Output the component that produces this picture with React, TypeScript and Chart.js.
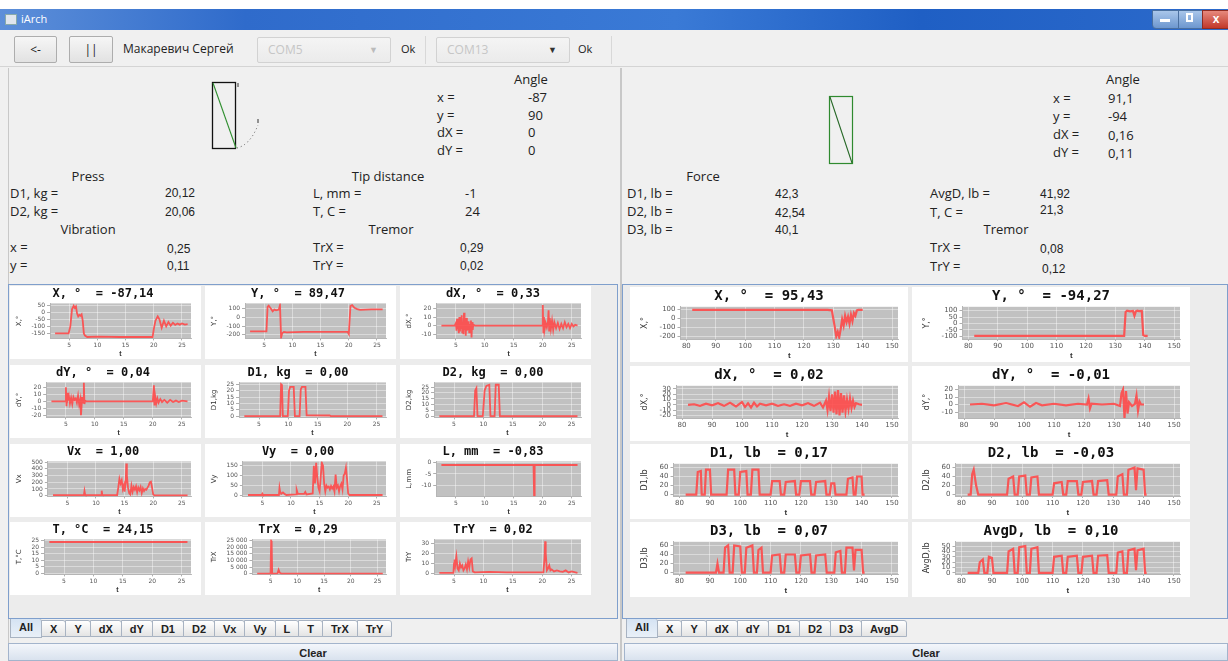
import React, { useEffect, useRef } from "react";
import { Chart, registerables } from "chart.js";
Chart.register(...registerables);

// ================= LEFT DEVICE (time 2.5 .. 26 s) =================
const LEFT_T_TICKS = [5, 10, 15, 20, 25];

const L_X_T = [2.5, 4.9, 5.2, 5.5, 5.8, 6.0, 6.2, 6.4, 6.6, 6.8, 7.0, 7.2, 7.4, 7.6, 7.8, 8.2, 10, 14, 19.8, 20.0, 20.3, 20.7, 21.0, 21.4, 21.8, 22.2, 22.6, 23.0, 23.4, 23.8, 24.2, 24.6, 25.0, 25.5, 26.0];
const L_X_V = [-150, -150, -100, 20, 45, 30, 40, -10, -30, -20, -25, -15, -60, -150, -165, -175, -172, -175, -175, -120, -60, -30, -50, -110, -60, -100, -70, -95, -75, -90, -80, -88, -80, -88, -85];
const L_X_TICKS = [50, 0, -50, -100, -150];

const L_Y_T = [2.5, 5.4, 5.6, 5.8, 6.2, 6.5, 6.8, 7.1, 7.4, 7.6, 7.8, 8.0, 8.2, 8.5, 9, 12, 19.8, 20.0, 20.3, 20.6, 21.0, 21.5, 22, 23, 24, 26];
const L_Y_V = [-160, -160, 120, 135, 100, 70, 90, 80, 85, 90, 140, -230, -180, -165, -170, -165, -165, -190, 130, 140, 110, 95, 85, 90, 92, 92];
const L_Y_TICKS = [100, 0, -100, -200];

const L_DX_T = [2.5, 4.8, 5.0, 5.1, 5.2, 5.3, 5.4, 5.5, 5.6, 5.7, 5.8, 5.9, 6.0, 6.1, 6.2, 6.3, 6.4, 6.5, 6.6, 6.7, 6.8, 6.9, 7.0, 7.1, 7.2, 7.3, 7.4, 7.5, 7.6, 7.7, 7.8, 7.9, 8.0, 8.3, 12, 19.9, 20.0, 20.1, 20.2, 20.3, 20.5, 20.7, 20.9, 21.0, 21.1, 21.2, 21.4, 21.6, 21.8, 22.0, 22.3, 22.6, 22.9, 23.2, 23.5, 23.8, 24.1, 24.4, 24.7, 25.0, 25.3, 25.6, 26];
const L_DX_V = [0, 0, 3, -6, 8, -4, 5, -9, 10, -7, 6, -3, 12, -8, 4, -10, 15, -5, 7, -12, 9, -6, 3, -4, 5, -8, 2, -3, 6, -14, 4, -5, 1, 0, 0, 0, 24, -8, 10, -5, 3, -2, 5, 18, -6, 9, -4, 6, -5, 4, -3, 3, -4, 2, -3, 4, -2, 2, -3, 2, -1, 1, 0];
const L_DX_TICKS = [20, 10, 0, -10];

const L_DY_T = [2.5, 4.9, 5.0, 5.1, 5.2, 5.3, 5.5, 5.7, 5.9, 6.1, 6.3, 6.5, 6.7, 6.9, 7.1, 7.3, 7.5, 7.6, 7.7, 7.8, 7.9, 8.0, 8.1, 8.2, 8.3, 8.5, 12, 20.0, 20.2, 20.3, 20.4, 20.6, 20.8, 21.0, 21.3, 21.6, 22.0, 22.5, 23.0, 23.5, 24.0, 24.5, 25.0, 26];
const L_DY_V = [0, 0, 20, -7, 12, 2, 8, -3, 5, -4, 6, 2, 4, -2, 8, -5, 3, -20, -8, 6, -3, 2, 27, -4, 1, 0, 0, 0, 23, -6, 8, -3, 4, -2, 3, -1, 2, -2, 2, -1, 1, -1, 1, 0];
const L_DY_TICKS = [20, 10, 0, -10, -20];

const L_D1_T = [2.5, 8.6, 8.75, 8.9, 9.05, 9.9, 10.1, 10.3, 10.9, 11.1, 11.9, 12.1, 12.3, 12.9, 13.1, 17, 17.2, 26];
const L_D1_V = [0, 0, 25, 24, 0, 0, 20, 23, 23, 0, 0, 21, 23, 23, 0.6, 0.5, 0, 0];
const L_D2_T = [2.5, 8.4, 8.6, 8.8, 9.0, 9.9, 10.2, 10.5, 11.0, 11.2, 11.9, 12.1, 12.6, 12.8, 26];
const L_D2_V = [0, 0, 22, 24, 0, 0, 22, 26, 27, 0, 0, 27, 27, 0, 0];
const L_D_TICKS = [25, 20, 15, 10, 5, 0];

const L_VX_T = [2.5, 7.9, 8.0, 8.1, 8.2, 10.9, 11.0, 11.1, 11.2, 13.7, 13.9, 14.1, 14.3, 14.5, 14.7, 14.9, 15.0, 15.2, 15.3, 15.4, 15.6, 15.8, 16.0, 16.2, 16.4, 16.6, 16.8, 17.0, 17.2, 17.4, 17.6, 17.8, 18.0, 18.2, 18.4, 18.6, 18.8, 19.0, 19.2, 19.4, 19.6, 19.8, 20.0, 20.2, 26];
const L_VX_V = [10, 10, 70, 20, 10, 10, 75, 15, 10, 10, 120, 250, 180, 230, 100, 160, 60, 200, 480, 300, 120, 40, 20, 150, 60, 130, 90, 140, 50, 120, 80, 130, 40, 110, 70, 100, 90, 120, 150, 200, 210, 120, 20, 5, 5];
const L_VX_TICKS = [500, 400, 300, 200, 100, 0];

const L_VY_T = [2.5, 4.9, 5.0, 5.1, 7.9, 8.0, 8.1, 8.3, 8.6, 9.0, 9.2, 10.9, 11.0, 11.2, 12.3, 12.5, 12.7, 13.8, 14.0, 14.2, 14.4, 14.6, 14.8, 15.0, 15.2, 15.4, 15.6, 15.8, 16.0, 16.2, 16.4, 16.6, 16.8, 17.0, 17.2, 17.4, 17.6, 17.8, 18.0, 18.2, 18.4, 18.6, 18.8, 19.0, 19.2, 19.4, 19.6, 19.8, 20.0, 20.2, 26];
const L_VY_V = [2, 2, 8, 2, 2, 38, 20, 8, 15, 5, 2, 5, 28, 8, 8, 18, 5, 10, 150, 60, 165, 90, 40, 20, 95, 165, 150, 60, 20, 50, 40, 45, 30, 48, 35, 45, 20, 105, 40, 50, 20, 48, 60, 30, 100, 110, 140, 80, 10, 2, 2];
const L_VY_TICKS = [150, 100, 50, 0];

const L_L_T = [2.5, 18.4, 18.5, 18.6, 26];
const L_L_V = [-1, -1, -14.5, -1, -1];
const L_L_TICKS = [0, -5, -10];

const L_T_T = [2.5, 26];
const L_T_V = [24, 24];
const L_T_TICKS = [25, 20, 15, 10, 5, 0];

const L_TRX_T = [2.5, 5.0, 5.1, 5.2, 5.3, 6.3, 6.5, 6.7, 7.0, 26];
const L_TRX_V = [100, 100, 25000, 24000, 100, 200, 3000, 800, 100, 100];
const L_TRX_TICKS = [25000, 20000, 15000, 10000, 5000, 0];

const L_TRY_T = [2.5, 4.9, 5.0, 5.1, 5.2, 5.4, 5.6, 5.8, 6.0, 6.2, 6.4, 6.6, 6.8, 7.0, 7.2, 7.4, 7.6, 7.8, 8.0, 8.2, 8.5, 11, 14, 20.2, 20.4, 20.5, 20.6, 20.8, 21.0, 21.2, 21.4, 21.6, 22, 22.5, 23, 23.5, 24, 24.5, 25, 26];
const L_TRY_V = [0.5, 0.5, 10, 14, 8, 17, 5, 3, 10, 6, 8, 3, 5, 9, 4, 12, 6, 14, 15, 2, 1, 1.5, 1, 1, 15, 32, 20, 3, 5, 8, 3, 4, 2, 3, 2, 1.5, 3, 1, 2, 0.5];
const L_TRY_TICKS = [30, 20, 10, 0];

// ================= RIGHT DEVICE (time 82 .. 141 s) =================
const RIGHT_T_TICKS = [80, 90, 100, 110, 120, 130, 140, 150];

const R_X_T = [82, 100, 120, 128, 129.5, 130.5, 131, 131.5, 132, 132.5, 133, 133.5, 134, 134.5, 135, 135.5, 136, 136.5, 137, 137.5, 138, 138.5, 139, 140];
const R_X_V = [95, 95, 95, 95, 90, -100, -200, -150, -210, -120, -10, -80, 30, -40, 20, -60, 40, -30, 60, 30, 90, 95, 95, 95];
const R_X_TICKS = [100, 0, -100, -200];

const R_Y_T = [82, 100, 120, 133, 133.5, 134, 135, 136, 136.5, 137, 137.5, 138, 139, 139.5, 140, 141];
const R_Y_V = [-95, -95, -95, -95, 90, 100, 95, 98, 60, 95, 100, 97, 98, -90, -95, -95];
const R_Y_TICKS = [100, 50, 0, -50, -100];

const R_DX_T = [82, 84, 86, 88, 90, 92, 94, 96, 98, 100, 101, 102, 103, 104, 105, 106, 108, 110, 112, 114, 116, 118, 120, 122, 124, 126, 127, 128, 128.5, 129, 129.5, 130, 130.5, 131, 131.5, 132, 132.5, 133, 133.5, 134, 134.5, 135, 135.5, 136, 136.5, 137, 137.5, 138, 139, 140];
const R_DX_V = [0, 1, -2, 2, -1, 3, -2, 4, -3, 5, -4, 3, -5, 4, -3, 2, -1, 2, -2, 1, -2, 2, -1, 3, -2, 4, -5, 8, -10, 15, -12, 20, -15, 25, -18, 28, -20, 22, -15, 18, -12, 10, -8, 12, -6, 8, -4, 3, 1, 0];
const R_DX_TICKS = [30, 20, 10, 0, -10, -20];

const R_DY_T = [82, 86, 90, 94, 98, 100, 102, 104, 106, 110, 114, 118, 121, 121.5, 122, 122.5, 126, 130, 132, 132.5, 133, 133.5, 134, 134.5, 135, 136, 137, 137.5, 138, 138.5, 139, 140];
const R_DY_V = [0, 1, -1, 2, -2, 3, -3, 2, -1, 1, -1, 1, 0, 8, -5, 1, 0, 1, -2, 15, 20, -18, 18, -12, 3, -2, 1, 12, -8, 4, 0, 0];
const R_DY_TICKS = [20, 10, 0, -10];

const R_D1_T = [82, 85.5, 86, 87, 87.3, 88.3, 88.7, 90, 90.4, 95.5, 96, 98, 98.4, 99.5, 100, 102, 102.4, 103.5, 104, 106, 106.4, 110, 110.5, 113, 113.4, 114.5, 115, 118, 118.4, 119.5, 120, 123, 123.4, 124.5, 125, 128, 128.4, 129.5, 130, 131, 131.4, 135, 135.5, 137, 137.4, 138, 138.5, 140, 140.3, 141];
const R_D1_V = [0, 0, 50, 52, 0, 0, 55, 55, 0, 0, 55, 55, 0, 0, 50, 52, 0, 0, 55, 55, 0, 0, 30, 30, 0, 0, 28, 30, 0, 0, 30, 30, 0, 0, 28, 30, 0, 0, 25, 25, 0, 0, 35, 38, 0, 0, 40, 40, 0, 0];
const R_D2_T = [82, 83, 83.5, 84, 84.8, 85.5, 95, 95.5, 97, 97.5, 98.5, 99, 101, 101.5, 102.5, 103, 105, 105.5, 110, 110.5, 113, 113.5, 114.5, 115, 118, 118.5, 119.5, 120, 123, 123.5, 124.5, 125, 128, 128.5, 131, 131.5, 133, 133.5, 134.5, 135, 137, 137.5, 138, 140, 140.5, 141];
const R_D2_V = [0, 0, 45, 55, 20, 0, 0, 35, 40, 0, 0, 40, 42, 0, 0, 38, 40, 0, 0, 25, 28, 0, 0, 30, 30, 0, 0, 28, 30, 0, 0, 30, 32, 0, 0, 40, 45, 0, 0, 55, 60, 10, 58, 55, 0, 0];
const R_D3_T = [82, 92, 92.5, 93, 94.5, 95, 96, 96.5, 97.5, 98, 100, 100.5, 101.5, 102, 104, 104.5, 105.5, 106, 107, 107.5, 110, 110.5, 113, 113.5, 114.5, 115, 118, 118.5, 119.5, 120, 123, 123.5, 124.5, 125, 128, 128.5, 131, 131.5, 133, 133.5, 134.5, 135, 137, 137.5, 138, 140, 140.5, 141];
const R_D3_V = [0, 0, 20, 0, 0, 55, 60, 0, 0, 60, 58, 0, 0, 55, 60, 0, 0, 50, 55, 0, 0, 38, 40, 0, 0, 40, 40, 0, 0, 38, 40, 0, 0, 38, 40, 0, 0, 45, 48, 0, 0, 55, 55, 5, 50, 50, 0, 0];
const R_D_TICKS = [60, 40, 20, 0];

const R_AVG_T = [82, 85.5, 86, 87, 87.5, 88.5, 89, 90, 90.5, 95, 95.5, 97, 97.5, 98.5, 99, 101, 101.5, 102.5, 103, 105, 105.5, 110, 110.5, 113, 113.5, 114.5, 115, 118, 118.5, 119.5, 120, 123, 123.5, 124.5, 125, 128, 128.5, 131, 131.5, 133, 133.5, 134.5, 135, 137, 137.5, 138, 140, 140.5, 141];
const R_AVG_V = [0, 0, 20, 25, 0, 0, 30, 28, 0, 0, 40, 45, 0, 0, 48, 50, 0, 0, 45, 48, 0, 0, 30, 32, 0, 0, 30, 32, 0, 0, 30, 32, 0, 0, 32, 33, 0, 0, 38, 40, 0, 0, 42, 45, 5, 42, 45, 0, 0];
const R_AVG_TICKS = [50, 40, 30, 20, 10, 0];

// ================= chart helpers =================
const plotBg = {
  id: "plotBg",
  beforeDraw(chart: any) {
    const a = chart.chartArea;
    if (!a) return;
    const ctx = chart.ctx;
    ctx.save();
    ctx.fillStyle = "#c1c1c1";
    ctx.fillRect(a.left, a.top, a.right - a.left, a.bottom - a.top);
    ctx.restore();
  },
};

const fmt = (v: number) => {
  const s = String(Math.abs(v)).replace(/\B(?=(\d{3})+(?!\d))/g, " ");
  return (v < 0 ? "-" : "") + s;
};

type MiniProps = {
  left: number; top: number; width: number; height: number;
  title: string; titleSize: number; yTitle: string;
  ts: number[]; vs: number[];
  xMin: number; xMax: number; xTicks: number[];
  yMin: number; yMax: number; yTicks: number[];
  tickSize: number; padLeft: number; yTitlePad: number; lineW: number;
};

function MiniChart(p: MiniProps) {
  const ref = useRef<HTMLCanvasElement>(null);
  useEffect(() => {
    const chart = new Chart(ref.current as HTMLCanvasElement, {
      type: "line",
      data: {
        datasets: [
          {
            data: p.ts.map((t, i) => ({ x: t, y: p.vs[i] })),
            borderColor: "rgba(255,70,70,0.88)",
            borderWidth: p.lineW,
            pointRadius: 0,
            tension: 0,
            fill: false,
          },
        ],
      },
      options: {
        animation: false,
        responsive: false,
        events: [],
        layout: { padding: { left: p.padLeft, right: 10, top: 0, bottom: 1 } },
        plugins: {
          legend: { display: false },
          tooltip: { enabled: false },
          title: {
            display: true,
            text: p.title,
            color: "#111",
            font: { family: "DejaVu Sans Mono", weight: "bold", size: p.titleSize },
            padding: { top: 1, bottom: 2 },
          },
        },
        scales: {
          x: {
            type: "linear",
            min: p.xMin,
            max: p.xMax,
            afterBuildTicks: (axis: any) => { axis.ticks = p.xTicks.map((v) => ({ value: v })); },
            ticks: { font: { size: p.tickSize, family: "DejaVu Sans" }, color: "#555", maxRotation: 0, padding: 1, autoSkip: false },
            grid: { color: "rgba(255,255,255,0.5)", lineWidth: 0.8, tickLength: 2, tickColor: "#999" },
            border: { display: true, color: "#b5b5b5" },
            title: { display: true, text: "t", color: "#333", font: { size: p.tickSize + 1, weight: "bold" }, padding: 0 },
          },
          y: {
            type: "linear",
            min: p.yMin,
            max: p.yMax,
            afterBuildTicks: (axis: any) => { axis.ticks = p.yTicks.map((v) => ({ value: v })); },
            ticks: { font: { size: p.tickSize, family: "DejaVu Sans" }, color: "#555", padding: 2, autoSkip: false, callback: (v: any) => fmt(Number(v)) },
            grid: { color: "rgba(255,255,255,0.5)", lineWidth: 0.8, tickLength: 3, tickColor: "#999" },
            border: { display: true, color: "#b5b5b5" },
            title: { display: true, text: p.yTitle, color: "#333", font: { size: p.tickSize + 1, family: "DejaVu Sans" }, padding: { top: 0, bottom: p.yTitlePad } },
          },
        },
      },
      plugins: [plotBg],
    } as any);
    return () => chart.destroy();
  }, []);
  return (
    <div style={{ position: "absolute", left: p.left, top: p.top, width: p.width, height: p.height, background: "#fff" }}>
      <canvas ref={ref} width={p.width} height={p.height} style={{ display: "block" }} />
    </div>
  );
}

// ================= layout =================
const LCOL = [10, 205, 400];
const LROW = [286, 365, 444, 522];
const RCOL = [630, 912];
const RROW = [287, 366, 444, 522];

type Spec = { title: string; yTitle: string; ts: number[]; vs: number[]; yMin: number; yMax: number; yTicks: number[] };

const LEFT_SPECS: Spec[] = [
  { title: "X, °  = -87,14", yTitle: "X,°", ts: L_X_T, vs: L_X_V, yMin: -185, yMax: 62, yTicks: L_X_TICKS },
  { title: "Y, °  = 89,47", yTitle: "Y,°", ts: L_Y_T, vs: L_Y_V, yMin: -240, yMax: 160, yTicks: L_Y_TICKS },
  { title: "dX, °  = 0,33", yTitle: "dX,°", ts: L_DX_T, vs: L_DX_V, yMin: -15, yMax: 26, yTicks: L_DX_TICKS },
  { title: "dY, °  = 0,04", yTitle: "dY,°", ts: L_DY_T, vs: L_DY_V, yMin: -23, yMax: 27, yTicks: L_DY_TICKS },
  { title: "D1, kg  = 0,00", yTitle: "D1,kg", ts: L_D1_T, vs: L_D1_V, yMin: -1, yMax: 26.5, yTicks: L_D_TICKS },
  { title: "D2, kg  = 0,00", yTitle: "D2,kg", ts: L_D2_T, vs: L_D2_V, yMin: -1, yMax: 29, yTicks: L_D_TICKS },
  { title: "Vx  = 1,00", yTitle: "Vx", ts: L_VX_T, vs: L_VX_V, yMin: -10, yMax: 510, yTicks: L_VX_TICKS },
  { title: "Vy  = 0,00", yTitle: "Vy", ts: L_VY_T, vs: L_VY_V, yMin: -5, yMax: 172, yTicks: L_VY_TICKS },
  { title: "L, mm  = -0,83", yTitle: "L,mm", ts: L_L_T, vs: L_L_V, yMin: -15, yMax: 0.6, yTicks: L_L_TICKS },
  { title: "T, °C  = 24,15", yTitle: "T,°C", ts: L_T_T, vs: L_T_V, yMin: -1, yMax: 26, yTicks: L_T_TICKS },
  { title: "TrX  = 0,29", yTitle: "TrX", ts: L_TRX_T, vs: L_TRX_V, yMin: -500, yMax: 26000, yTicks: L_TRX_TICKS },
  { title: "TrY  = 0,02", yTitle: "TrY", ts: L_TRY_T, vs: L_TRY_V, yMin: -1, yMax: 34, yTicks: L_TRY_TICKS },
];

const RIGHT_SPECS: Spec[] = [
  { title: "X, °  = 95,43", yTitle: "X,°", ts: R_X_T, vs: R_X_V, yMin: -230, yMax: 130, yTicks: R_X_TICKS },
  { title: "Y, °  = -94,27", yTitle: "Y,°", ts: R_Y_T, vs: R_Y_V, yMin: -120, yMax: 130, yTicks: R_Y_TICKS },
  { title: "dX, °  = 0,02", yTitle: "dX,°", ts: R_DX_T, vs: R_DX_V, yMin: -25, yMax: 36, yTicks: R_DX_TICKS },
  { title: "dY, °  = -0,01", yTitle: "dY,°", ts: R_DY_T, vs: R_DY_V, yMin: -18, yMax: 25, yTicks: R_DY_TICKS },
  { title: "D1, lb  = 0,17", yTitle: "D1,lb", ts: R_D1_T, vs: R_D1_V, yMin: -3, yMax: 68, yTicks: R_D_TICKS },
  { title: "D2, lb  = -0,03", yTitle: "D2,lb", ts: R_D2_T, vs: R_D2_V, yMin: -3, yMax: 68, yTicks: R_D_TICKS },
  { title: "D3, lb  = 0,07", yTitle: "D3,lb", ts: R_D3_T, vs: R_D3_V, yMin: -3, yMax: 68, yTicks: R_D_TICKS },
  { title: "AvgD, lb  = 0,10", yTitle: "AvgD,lb", ts: R_AVG_T, vs: R_AVG_V, yMin: -2, yMax: 58, yTicks: R_AVG_TICKS },
];

const LEFT_TABS = ["All", "X", "Y", "dX", "dY", "D1", "D2", "Vx", "Vy", "L", "T", "TrX", "TrY"];
const RIGHT_TABS = ["All", "X", "Y", "dX", "dY", "D1", "D2", "D3", "AvgD"];

const uiFont = "'Open Sans', 'Noto Sans', sans-serif";
const numFont = "'Liberation Sans', Arial, sans-serif";

function Txt({ x, y, children, size = 13, font = uiFont, color = "#222", center = false }: any) {
  return (
    <div style={{ position: "absolute", left: x, top: y - 9, fontFamily: font, fontSize: size, lineHeight: "18px", color, whiteSpace: "pre", transform: center ? "translateX(-50%)" : undefined }}>
      {children}
    </div>
  );
}

function Tabs({ x, labels }: { x: number; labels: string[] }) {
  return (
    <div style={{ position: "absolute", left: x, top: 619, height: 19, display: "flex" }}>
      {labels.map((l, i) => (
        <div key={l} style={{
          height: i === 0 ? 19 : 17, marginTop: i === 0 ? 0 : 1, padding: "0 8px", boxSizing: "border-box",
          border: "1px solid #a8b3c2", borderTop: i === 0 ? "none" : "1px solid #a8b3c2", marginLeft: i === 0 ? 0 : -1,
          background: i === 0 ? "linear-gradient(#d5e3f3,#e9f0f8)" : "linear-gradient(#ffffff,#e4e4e4)",
          fontFamily: numFont, fontWeight: "bold", fontSize: 11, lineHeight: "16px", color: "#222",
          borderRadius: "0 3px 0 0", minWidth: 24, textAlign: "center",
        }}>{l}</div>
      ))}
    </div>
  );
}

function Btn({ x, y, w, h, children }: any) {
  return (
    <div style={{ position: "absolute", left: x, top: y, width: w, height: h, boxSizing: "border-box", border: "1px solid #adadad", borderRadius: 2, background: "linear-gradient(#f6f6f6,#e2e2e2)", fontFamily: uiFont, fontSize: 12, lineHeight: `${h - 2}px`, textAlign: "center", color: "#222" }}>
      {children}
    </div>
  );
}

function Combo({ x, w, text }: any) {
  return (
    <div style={{ position: "absolute", left: x, top: 37, width: w, height: 26, boxSizing: "border-box", border: "1px solid #d2d2d2", borderRadius: 2, background: "linear-gradient(#f4f4f4,#ebebeb)", fontFamily: uiFont, fontSize: 12, lineHeight: "24px", color: "#c6c6c6", paddingLeft: 10 }}>
      {text}
      <span style={{ position: "absolute", right: 12, top: 0, fontSize: 9, color: text === "COM13" ? "#333" : "#bbb" }}>▼</span>
    </div>
  );
}

export default function App() {
  useEffect(() => {
    document.body.style.margin = "0";
  }, []);
  return (
    <div style={{ position: "absolute", left: 0, top: 0, width: 1228, height: 661, background: "#f0f0f0", overflow: "hidden" }}>
      {/* top white strip + title bar */}
      <div style={{ position: "absolute", left: 0, top: 0, width: 1228, height: 9, background: "#fff" }} />
      <div style={{ position: "absolute", left: 0, top: 9, width: 1228, height: 21, background: "linear-gradient(90deg,#5d8fd9 0%,#2f6bcb 20%,#3a7ad6 55%,#1f5fc4 75%,#2c6acb 100%)" }} />
      <div style={{ position: "absolute", left: 5, top: 14, width: 10, height: 9, background: "#e0e6ee", border: "1px solid #8aa" }} />
      <div style={{ position: "absolute", left: 21, top: 11, fontFamily: uiFont, fontSize: 11, color: "#fff" }}>iArch</div>
      <div style={{ position: "absolute", left: 1152, top: 10, width: 26, height: 17, background: "linear-gradient(#a9c6ea,#6d97cf)", border: "1px solid #4a6f9f", borderRadius: "0 0 0 4px" }} />
      <div style={{ position: "absolute", left: 1160, top: 19, width: 10, height: 3, background: "#fff" }} />
      <div style={{ position: "absolute", left: 1178, top: 10, width: 24, height: 17, background: "linear-gradient(#a9c6ea,#6d97cf)", border: "1px solid #4a6f9f" }} />
      <div style={{ position: "absolute", left: 1186, top: 13, width: 7, height: 9, border: "2px solid #fff", boxSizing: "border-box" }} />
      <div style={{ position: "absolute", left: 1202, top: 10, width: 26, height: 17, background: "linear-gradient(#e6897d,#c2382a)", border: "1px solid #8f2c22", fontFamily: numFont, fontWeight: "bold", fontSize: 12, color: "#fff", textAlign: "center", lineHeight: "17px" }}>x</div>

      {/* toolbar */}
      <div style={{ position: "absolute", left: 0, top: 66, width: 1228, height: 1, background: "#d4d4d4" }} />
      <Btn x={14} y={36} w={43} h={27}>&lt;-</Btn>
      <Btn x={69} y={36} w={44} h={27}>||</Btn>
      <Txt x={123} y={49} size={12}>Макаревич Сергей</Txt>
      <Combo x={257} w={134} text="COM5" />
      <Txt x={401} y={49} size={11}>Ok</Txt>
      <div style={{ position: "absolute", left: 425, top: 36, width: 1, height: 28, background: "#d8d8d8" }} />
      <Combo x={436} w={134} text="COM13" />
      <Txt x={578} y={49} size={11}>Ok</Txt>
      <div style={{ position: "absolute", left: 611, top: 36, width: 1, height: 28, background: "#d8d8d8" }} />

      {/* panel borders */}
      <div style={{ position: "absolute", left: 8, top: 68, width: 1, height: 593, background: "#c8c8c8" }} />
      <div style={{ position: "absolute", left: 620, top: 68, width: 2, height: 593, background: "#c8c8c8" }} />

      {/* LEFT info */}
      <svg style={{ position: "absolute", left: 200, top: 75 }} width={80} height={85}>
        <rect x={12.5} y={7.5} width={23} height={66} fill="none" stroke="#111" strokeWidth={1.3} />
        <line x1={13} y1={8} x2={36} y2={73} stroke="#2f8f2f" strokeWidth={1.1} />
        <line x1={38} y1={8} x2={38} y2={12} stroke="#333" strokeWidth={1} />
        <path d="M37 73 Q50 70 58 50" fill="none" stroke="#555" strokeWidth={1} strokeDasharray="1 3" />
        <line x1={58} y1={44} x2={58} y2={48} stroke="#333" strokeWidth={1} />
      </svg>
      <Txt x={531} y={79} center>Angle</Txt>
      <Txt x={437} y={97}>x =</Txt><Txt x={528} y={97}>-87</Txt>
      <Txt x={437} y={115}>y =</Txt><Txt x={528} y={115}>90</Txt>
      <Txt x={437} y={132}>dX =</Txt><Txt x={528} y={132}>0</Txt>
      <Txt x={437} y={150}>dY =</Txt><Txt x={528} y={150}>0</Txt>

      <Txt x={88} y={176} center>Press</Txt>
      <Txt x={10} y={193}>D1, kg =</Txt><Txt x={165} y={193} size={12} font={numFont}>20,12</Txt>
      <Txt x={10} y={211}>D2, kg =</Txt><Txt x={165} y={212} size={12} font={numFont}>20,06</Txt>
      <Txt x={88} y={229} center>Vibration</Txt>
      <Txt x={10} y={247}>x =</Txt><Txt x={167} y={249} size={12} font={numFont}>0,25</Txt>
      <Txt x={10} y={265}>y =</Txt><Txt x={167} y={266} size={12} font={numFont}>0,11</Txt>

      <Txt x={388} y={176} center>Tip distance</Txt>
      <Txt x={313} y={193}>L, mm =</Txt><Txt x={465} y={193}>-1</Txt>
      <Txt x={313} y={211}>T, C =</Txt><Txt x={465} y={211}>24</Txt>
      <Txt x={391} y={229} center>Tremor</Txt>
      <Txt x={313} y={247}>TrX =</Txt><Txt x={460} y={248} size={12} font={numFont}>0,29</Txt>
      <Txt x={313} y={265}>TrY =</Txt><Txt x={460} y={266} size={12} font={numFont}>0,02</Txt>

      {/* RIGHT info */}
      <svg style={{ position: "absolute", left: 820, top: 90 }} width={40} height={80}>
        <rect x={9.5} y={6.5} width={23} height={67} fill="none" stroke="#2f8a2f" strokeWidth={1.2} />
        <line x1={10} y1={7} x2={32} y2={73} stroke="#2a6a2a" strokeWidth={1.1} />
      </svg>
      <Txt x={1123} y={79} center>Angle</Txt>
      <Txt x={1053} y={98}>x =</Txt><Txt x={1108} y={98}>91,1</Txt>
      <Txt x={1053} y={116}>y =</Txt><Txt x={1108} y={116}>-94</Txt>
      <Txt x={1053} y={134}>dX =</Txt><Txt x={1108} y={135}>0,16</Txt>
      <Txt x={1053} y={152}>dY =</Txt><Txt x={1108} y={153}>0,11</Txt>

      <Txt x={703} y={176} center>Force</Txt>
      <Txt x={627} y={193}>D1, lb =</Txt><Txt x={775} y={194} size={12} font={numFont}>42,3</Txt>
      <Txt x={627} y={211}>D2, lb =</Txt><Txt x={775} y={213} size={12} font={numFont}>42,54</Txt>
      <Txt x={627} y={229}>D3, lb =</Txt><Txt x={775} y={230} size={12} font={numFont}>40,1</Txt>

      <Txt x={930} y={193}>AvgD, lb =</Txt><Txt x={1040} y={194} size={12} font={numFont}>41,92</Txt>
      <Txt x={930} y={212}>T, C =</Txt><Txt x={1040} y={210} size={12} font={numFont}>21,3</Txt>
      <Txt x={1006} y={229} center>Tremor</Txt>
      <Txt x={930} y={247}>TrX =</Txt><Txt x={1040} y={249} size={12} font={numFont}>0,08</Txt>
      <Txt x={930} y={266}>TrY =</Txt><Txt x={1042} y={269} size={12} font={numFont}>0,12</Txt>

      {/* chart panels */}
      <div style={{ position: "absolute", left: 8, top: 284, width: 610, height: 335, boxSizing: "border-box", border: "1px solid #7f9fcc", background: "#ececec" }} />
      <div style={{ position: "absolute", left: 622, top: 284, width: 606, height: 335, boxSizing: "border-box", border: "1px solid #7f9fcc", background: "#ececec" }} />

      {LEFT_SPECS.map((s, i) => (
        <MiniChart key={"l" + i} left={LCOL[i % 3]} top={LROW[Math.floor(i / 3)]} width={191} height={73}
          title={s.title} titleSize={12} yTitle={s.yTitle} ts={s.ts} vs={s.vs}
          xMin={1.6} xMax={26.6} xTicks={LEFT_T_TICKS} yMin={s.yMin} yMax={s.yMax} yTicks={s.yTicks}
          tickSize={6} padLeft={5} yTitlePad={6} lineW={1.8} />
      ))}
      {RIGHT_SPECS.map((s, i) => (
        <MiniChart key={"r" + i} left={RCOL[i % 2]} top={RROW[Math.floor(i / 2)]} width={278} height={75}
          title={s.title} titleSize={14} yTitle={s.yTitle} ts={s.ts} vs={s.vs}
          xMin={78} xMax={152} xTicks={RIGHT_T_TICKS} yMin={s.yMin} yMax={s.yMax} yTicks={s.yTicks}
          tickSize={7} padLeft={10} yTitlePad={8} lineW={2.2} />
      ))}

      {/* tabs */}
      <Tabs x={10} labels={LEFT_TABS} />
      <Tabs x={626} labels={RIGHT_TABS} />

      {/* clear buttons */}
      <div style={{ position: "absolute", left: 8, top: 643, width: 610, height: 18, boxSizing: "border-box", border: "1px solid #a3b4cc", background: "linear-gradient(#f3f6fb,#d9e2ee)", fontFamily: numFont, fontWeight: "bold", fontSize: 11, textAlign: "center", lineHeight: "18px", color: "#222" }}>Clear</div>
      <div style={{ position: "absolute", left: 624, top: 643, width: 604, height: 18, boxSizing: "border-box", border: "1px solid #a3b4cc", background: "linear-gradient(#f3f6fb,#d9e2ee)", fontFamily: numFont, fontWeight: "bold", fontSize: 11, textAlign: "center", lineHeight: "18px", color: "#222" }}>Clear</div>
    </div>
  );
}
